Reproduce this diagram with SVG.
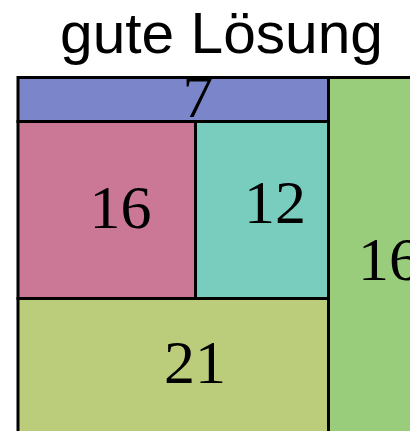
<svg xmlns="http://www.w3.org/2000/svg" width="410" height="431" viewBox="0 0 410 431">
<style>
.b{stroke:#000;stroke-width:3}
.n{font-family:"Liberation Serif","DejaVu Serif",serif;font-size:62px;fill:#000;text-anchor:middle}
.t{font-family:"Liberation Sans","DejaVu Sans",sans-serif;font-size:57px;fill:#000;text-anchor:middle}
</style>
<rect width="410" height="431" fill="#fff"/>
<text class="t" x="221.5" y="53" textLength="323" lengthAdjust="spacingAndGlyphs">gute Lösung</text>
<g id="green"><rect class="b" x="328.5" y="77.5" width="90" height="370" fill="#99cc7b"/><text class="n" x="389" y="280">16</text></g>
<g id="olive"><rect class="b" x="18" y="298.5" width="310.5" height="150" fill="#bbcd7b"/><text class="n" x="195" y="383">21</text></g>
<g id="pink"><rect class="b" x="18" y="121.5" width="177.5" height="177" fill="#cb7897"/><text class="n" x="120.5" y="228">16</text></g>
<g id="teal"><rect class="b" x="195.5" y="121.5" width="133" height="177" fill="#79cdbf"/><text class="n" x="275" y="223">12</text></g>
<g id="blue"><rect class="b" x="18" y="77.5" width="310.5" height="44" fill="#7b85c9"/><text class="n" x="198" y="117">7</text></g>
</svg>
